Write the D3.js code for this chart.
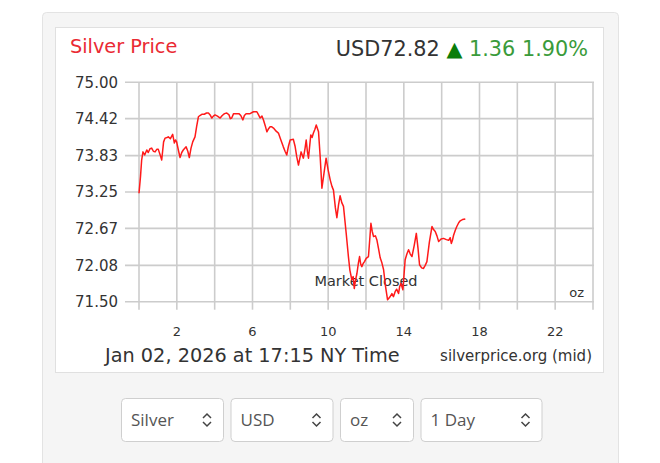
<!DOCTYPE html>
<html>
<head>
<meta charset="utf-8">
<script src="https://cdn.jsdelivr.net/npm/d3@7"></script>
<style>
  body { margin: 0; background: #fff; }
  svg { display: block; }
</style>
</head>
<body>
<div id="container"></div>
<script>
let w = 660;
let h = 463;

// hours since midnight NY time, and the silver price at that time
let hours = [0, 0.08, 0.14, 0.21, 0.30, 0.41, 0.49, 0.58, 0.67, 0.76, 0.85, 0.94, 1.02, 1.11, 1.20, 1.30, 1.38, 1.48, 1.55, 1.66,
  1.78, 1.87, 1.93, 1.99, 2.08, 2.17, 2.26, 2.34, 2.49, 2.58, 2.66, 2.75, 2.84, 2.96, 3.05, 3.14, 3.22, 3.32, 3.45, 3.57,
  3.67, 3.76, 3.85, 3.93, 4.02, 4.15, 4.29, 4.40, 4.52, 4.64, 4.76, 4.83, 4.90, 5.00, 5.17, 5.28, 5.38, 5.49, 5.57, 5.66,
  5.87, 6.05, 6.23, 6.32, 6.40, 6.50, 6.58, 6.68, 6.76, 6.85, 6.93, 7.02, 7.11, 7.25, 7.37, 7.50, 7.63, 7.72, 7.81, 7.90,
  7.99, 8.16, 8.25, 8.34, 8.43, 8.57, 8.69, 8.78, 8.84, 8.90, 8.96, 9.08, 9.15, 9.22, 9.30, 9.37, 9.49, 9.58, 9.67, 9.78,
  9.89, 10.00, 10.11, 10.20, 10.28, 10.38, 10.46, 10.55, 10.63, 10.72, 10.81, 10.95, 11.07, 11.15, 11.25, 11.32, 11.38, 11.45, 11.52, 11.60,
  11.66, 11.72, 11.78, 11.85, 11.92, 12.01, 12.13, 12.20, 12.26, 12.33, 12.40, 12.50, 12.58, 12.66, 12.75, 12.84, 12.93, 13.03, 13.14, 13.25,
  13.37, 13.45, 13.54, 13.62, 13.72, 13.78, 13.85, 13.95, 14.07, 14.16, 14.25, 14.34, 14.43, 14.55, 14.66, 14.75, 14.83, 14.94, 15.04, 15.13,
  15.22, 15.35, 15.49, 15.57, 15.66, 15.75, 15.84, 15.97, 16.10, 16.25, 16.37, 16.45, 16.51, 16.57, 16.63, 16.72, 16.80, 16.90, 16.98, 17.10,
  17.25];
let prices = [73.23, 73.50, 73.76, 73.89, 73.84, 73.92, 73.88, 73.94, 73.95, 73.90, 73.89, 73.93, 73.93, 73.85, 73.76, 74.05, 74.11, 74.12, 74.13, 74.10,
  74.17, 74.03, 74.08, 74.05, 73.92, 73.80, 73.88, 73.92, 73.97, 73.90, 73.80, 73.95, 74.05, 74.13, 74.30, 74.45, 74.47, 74.49, 74.49, 74.51,
  74.51, 74.48, 74.43, 74.46, 74.48, 74.46, 74.43, 74.47, 74.50, 74.51, 74.48, 74.42, 74.43, 74.50, 74.50, 74.50, 74.47, 74.40, 74.47, 74.50,
  74.50, 74.53, 74.53, 74.48, 74.43, 74.46, 74.40, 74.30, 74.21, 74.26, 74.29, 74.29, 74.27, 74.22, 74.19, 74.08, 73.97, 73.90, 73.84, 73.98,
  74.08, 74.09, 73.98, 73.81, 73.68, 73.89, 73.79, 73.95, 74.08, 73.90, 73.79, 74.16, 74.12, 74.19, 74.25, 74.32, 74.21, 73.80, 73.31, 73.55,
  73.79, 73.60, 73.44, 73.34, 73.28, 73.00, 72.84, 73.05, 73.19, 73.08, 73.02, 72.60, 72.22, 72.00, 71.85, 71.90, 71.71, 71.85, 71.95, 72.12,
  72.22, 72.10, 72.06, 72.11, 72.14, 72.19, 72.22, 72.50, 72.75, 72.62, 72.54, 72.55, 72.48, 72.35, 72.20, 72.12, 72.01, 71.75, 71.53, 71.57,
  71.63, 71.58, 71.66, 71.70, 71.63, 71.74, 71.79, 71.69, 72.17, 72.26, 72.33, 72.26, 72.22, 72.40, 72.59, 72.35, 72.09, 72.04, 72.03, 72.08,
  72.14, 72.45, 72.70, 72.65, 72.62, 72.55, 72.46, 72.50, 72.51, 72.49, 72.48, 72.52, 72.43, 72.48, 72.56, 72.64, 72.70, 72.76, 72.79, 72.81,
  72.82];

let yTicks = [71.50, 72.08, 72.67, 73.25, 73.83, 74.42, 75.00];
let gridHours = [0, 2, 4, 6, 8, 10, 12, 14, 16, 18, 20, 22, 24];
let xLabels = [2, 6, 10, 14, 18, 22];

let titleText = "Silver Price";
let priceText = "USD72.82";
let changeText = "1.36 1.90%";
let dateText = "Jan 02, 2026 at 17:15 NY Time";
let sourceText = "silverprice.org (mid)";
let unitText = "oz";
let closedText = "Market Closed";
let closedHour = 12;

let selectLabels = ["Silver", "USD", "oz", "1 Day"];
let selectWidths = [102, 102, 73, 121];

let viz = d3.select("#container")
  .append("svg")
    .attr("width", w)
    .attr("height", h)
    .style("background-color", "white")
;

// grey widget panel and white chart card
viz.append("rect")
  .attr("x", 42.5).attr("y", 12.5)
  .attr("width", 576).attr("height", 470)
  .attr("rx", 4)
  .attr("fill", "#f5f5f5")
  .attr("stroke", "#e3e3e3");

viz.append("rect")
  .attr("x", 55.5).attr("y", 27.5)
  .attr("width", 548).attr("height", 345)
  .attr("fill", "white")
  .attr("stroke", "#e0e0e0");

let xScale = d3.scaleLinear().domain([0, 24]).range([139, 593]);
let yScale = d3.scaleLinear().domain([71.5, 75]).range([301.7, 82.3]);

let grid = viz.append("g").attr("stroke", "#cccccc").attr("stroke-width", 1.6);

grid.selectAll(".hline").data(yTicks).enter()
  .append("line")
    .attr("x1", 125)
    .attr("x2", xScale(24) + 1)
    .attr("y1", d => yScale(d))
    .attr("y2", d => yScale(d));

grid.selectAll(".vline").data(gridHours).enter()
  .append("line")
    .attr("x1", d => xScale(d))
    .attr("x2", d => xScale(d))
    .attr("y1", yScale(75))
    .attr("y2", yScale(71.5) + 8);

// y tick labels
viz.selectAll(".ylab").data(yTicks).enter()
  .append("text")
    .attr("x", 118)
    .attr("y", d => yScale(d))
    .attr("dy", "0.36em")
    .attr("text-anchor", "end")
    .attr("font-family", "DejaVu Sans")
    .attr("font-size", 15)
    .attr("fill", "#333")
    .text(d => d.toFixed(2));

// x tick labels
viz.selectAll(".xlab").data(xLabels).enter()
  .append("text")
    .attr("x", d => xScale(d))
    .attr("y", 336)
    .attr("text-anchor", "middle")
    .attr("font-family", "DejaVu Sans")
    .attr("font-size", 13)
    .attr("fill", "#333")
    .text(d => d);

// market closed note + unit
viz.append("text")
  .attr("x", xScale(closedHour))
  .attr("y", 286)
  .attr("text-anchor", "middle")
  .attr("font-family", "DejaVu Sans")
  .attr("font-size", 14.5)
  .attr("fill", "#333")
  .text(closedText);

viz.append("text")
  .attr("x", 584)
  .attr("y", 297)
  .attr("text-anchor", "end")
  .attr("font-family", "DejaVu Sans")
  .attr("font-size", 13)
  .attr("fill", "#333")
  .text(unitText);

// price line
let series = hours.map((t, i) => ({hour: t, price: prices[i]}));
let line = d3.line()
  .x(d => xScale(d.hour))
  .y(d => yScale(d.price));

viz.append("path")
  .datum(series)
  .attr("d", line)
  .attr("fill", "none")
  .attr("stroke", "#ff1a1a")
  .attr("stroke-width", 1.5)
  .attr("stroke-linejoin", "round");

// header
viz.append("text")
  .attr("x", 70)
  .attr("y", 53)
  .attr("font-family", "DejaVu Sans")
  .attr("font-size", 19.3)
  .attr("fill", "#ea2a33")
  .text(titleText);

let head = viz.append("text")
  .attr("x", 588)
  .attr("y", 56)
  .attr("text-anchor", "end")
  .attr("font-family", "DejaVu Sans")
  .attr("font-size", 20.8);
head.append("tspan").attr("fill", "#333").text(priceText + " ");
head.append("tspan").attr("fill", "#0b7d0b").text("\u25B2");
head.append("tspan").attr("fill", "#3a9b3a").text(" " + changeText);

// footer
viz.append("text")
  .attr("x", 105)
  .attr("y", 362)
  .attr("font-family", "DejaVu Sans")
  .attr("font-size", 19.3)
  .attr("fill", "#333")
  .text(dateText);

viz.append("text")
  .attr("x", 592)
  .attr("y", 361)
  .attr("text-anchor", "end")
  .attr("font-family", "DejaVu Sans")
  .attr("font-size", 15)
  .attr("fill", "#333")
  .text(sourceText);

// dropdowns under the chart
let selX = [];
let cx = 121;
selectWidths.forEach(sw => { selX.push(cx); cx += sw + 7.5; });

let sel = viz.selectAll(".sel").data(selectLabels).enter()
  .append("g")
    .classed("sel", true)
    .attr("transform", (d, i) => "translate(" + selX[i] + ", 398)");

sel.append("rect")
  .attr("x", 0.5).attr("y", 0.5)
  .attr("width", (d, i) => selectWidths[i])
  .attr("height", 43)
  .attr("rx", 4)
  .attr("fill", "white")
  .attr("stroke", "#cfcfcf");

sel.append("text")
  .attr("x", 10)
  .attr("y", 28)
  .attr("font-family", "Open Sans")
  .attr("font-size", 17)
  .attr("fill", "#555")
  .text(d => d);

sel.append("path")
  .attr("d", (d, i) => {
    let x0 = selectWidths[i] - 16;
    return "M" + (x0 - 4) + ",20 L" + x0 + ",16 L" + (x0 + 4) + ",20 M" + (x0 - 4) + ",24 L" + x0 + ",28 L" + (x0 + 4) + ",24";
  })
  .attr("fill", "none")
  .attr("stroke", "#444")
  .attr("stroke-width", 1.5);
</script>
</body>
</html>
